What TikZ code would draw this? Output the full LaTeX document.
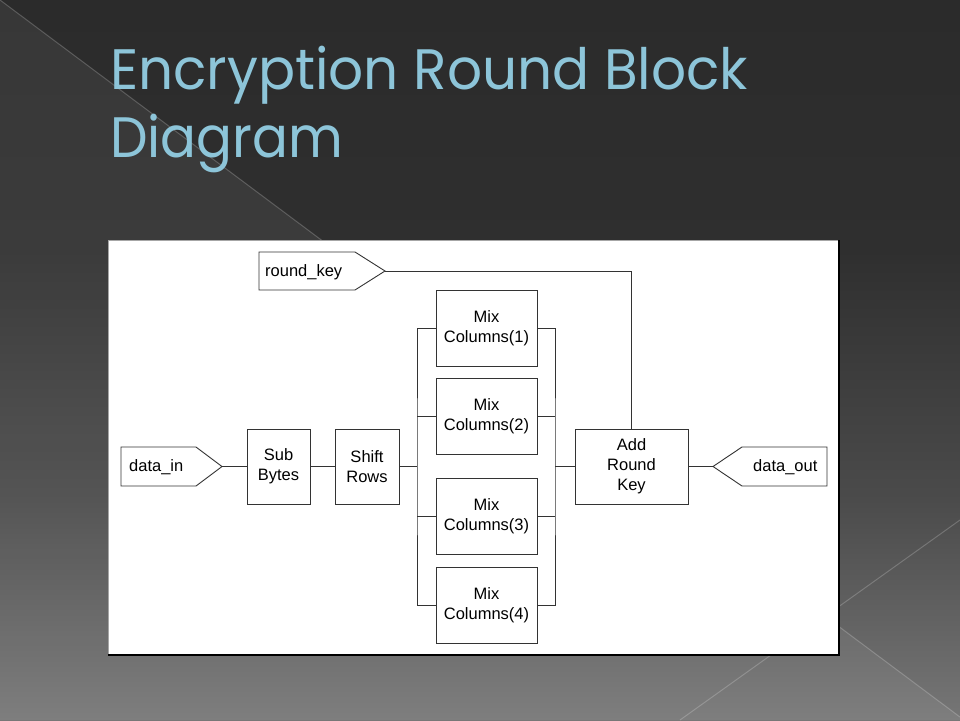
\documentclass[tikz,border=0pt]{standalone}
\usepackage{fontspec}
\setmainfont{Liberation Sans}
\newfontfamily\titlefont{Poppins}
\usetikzlibrary{calc}
\definecolor{titleblue}{HTML}{8DC5D9}
\definecolor{ln}{HTML}{333333}
\definecolor{bgA}{HTML}{2B2B2B}
\definecolor{bgB}{HTML}{2F2F2F}
\definecolor{bgC}{HTML}{4B4B4B}
\definecolor{bgD}{HTML}{767676}
\newcommand\dgfont{\fontsize{16.5}{20}\selectfont}
\begin{document}
\begin{tikzpicture}[x=1pt,y=-1pt,
  blk/.style={draw=ln, line width=0.9pt, fill=white, minimum width=#1,
    minimum height=75pt, inner sep=0pt, align=center, font=\dgfont},
  port/.style={draw=ln, line width=0.9pt},
  wire/.style={draw=ln, line width=0.9pt},
  lbl/.style={anchor=base west, inner sep=0pt, font=\dgfont},
  bgline/.style={white, opacity=0.2, line width=1pt}]
\useasboundingbox (0,0) rectangle (960,720);
% background
\shade[top color=bgA, bottom color=bgB] (0,0) rectangle (960,251);
\shade[top color=bgB, bottom color=bgC] (0,250) rectangle (960,501);
\shade[top color=bgC, bottom color=bgD] (0,500) rectangle (960,720);
\fill[white, opacity=0.06] (0,0) -- (960,717) -- (960,720) -- (0,720) -- cycle;
\draw[bgline] (0,0) -- (960,717);
\draw[bgline] (960,520) -- (680,720);
% title
\node[anchor=base west, inner sep=0pt, text=titleblue,
  font=\titlefont\fontsize{57}{60}\selectfont] (t1) at (110,89)
  {\resizebox{638pt}{\height}{Encryption Round Block}};
\node[anchor=base west, inner sep=0pt, text=titleblue,
  font=\titlefont\fontsize{57}{60}\selectfont] (t2) at (110,157)
  {\resizebox{233pt}{\height}{Diagram}};
% diagram panel
\fill[white] (108,240) rectangle (839,655);
\draw[gray!70, line width=0.8pt] (839,240) -- (108,240) -- (108,655);
\draw[black, line width=1.3pt] (108,655) -- (839,655) -- (839,240);
% ports
\draw[port] (259,252) -- (355,252) -- (385,271) -- (355,290) -- (259,290) -- cycle;
\coordinate (rktip) at (385,271);
\node[lbl] (rk) at (265,276) {round\_key};
\draw[port] (121,447) -- (196,447) -- (222,466.5) -- (196,486) -- (121,486) -- cycle;
\coordinate (dintip) at (222,466.5);
\node[lbl] (din) at (129,471) {data\_in};
\draw[port] (827,447) -- (742,447) -- (713,466.5) -- (742,486) -- (827,486) -- cycle;
\coordinate (douttip) at (713,466.5);
\node[lbl] (dout) at (753,471.5) {data\_out};
% blocks
\node[blk=63pt] (sb) at (278.5,466.5) {Sub\\Bytes};
\node[blk=64pt] (sr) at (367,466.5) {Shift\\Rows};
\node[blk=101pt, minimum height=76pt] (m1) at (486.5,328) {Mix\\Columns(1)};
\node[blk=101pt, minimum height=76pt] (m2) at (486.5,416) {Mix\\Columns(2)};
\node[blk=101pt, minimum height=76pt] (m3) at (486.5,516.5) {Mix\\Columns(3)};
\node[blk=101pt, minimum height=76pt] (m4) at (486.5,605) {Mix\\Columns(4)};
\node[blk=113pt] (ark) at (631.5,466.5) {Add\\Round\\Key};
\coordinate (bl) at (417,466.5);
\coordinate (br) at (555,466.5);
% wires
\draw[wire] (dintip) -- (sb.west);
\draw[wire] (sb.east) -- (sr.west);
\draw[wire] (sr.east) -- (bl);
\draw[wire] (m1.west) -| (bl) |- (m4.west);
\draw[wire] (m2.west) -- (m2.west -| bl);
\draw[wire] (m3.west) -- (m3.west -| bl);
\draw[wire] (m1.east) -| (br) |- (m4.east);
\draw[wire] (m2.east) -- (m2.east -| br);
\draw[wire] (m3.east) -- (m3.east -| br);
\draw[wire] (br) -- (ark.west);
\draw[wire] (ark.east) -- (douttip);
\draw[wire] (rktip) -| (ark.north);
\end{tikzpicture}
\end{document}
